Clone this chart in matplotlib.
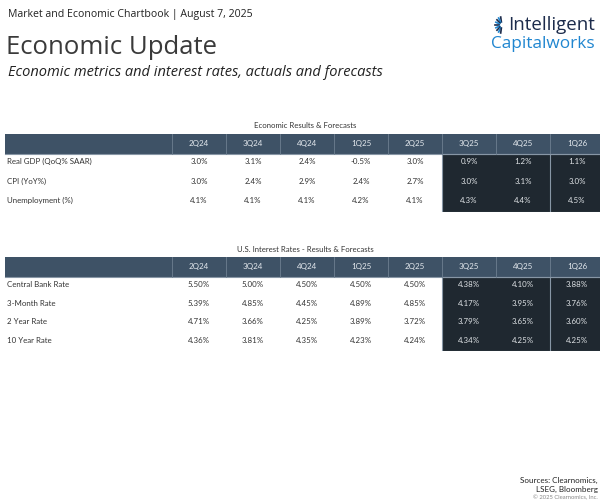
import math
import matplotlib
matplotlib.use("Agg")
import matplotlib.pyplot as plt
from matplotlib.patches import Rectangle

W, H = 600, 503

quarters = ["2Q24", "3Q24", "4Q24", "1Q25", "2Q25", "3Q25", "4Q25", "1Q26"]
n_actual = 5  # first 5 quarters are actuals, rest forecasts

econ_title = "Economic Results & Forecasts"
econ_rows = ["Real GDP (QoQ% SAAR)", "CPI (YoY%)", "Unemployment (%)"]
gdp = ["3.0%", "3.1%", "2.4%", "-0.5%", "3.0%", "0.9%", "1.2%", "1.1%"]
cpi = ["3.0%", "2.4%", "2.9%", "2.4%", "2.7%", "3.0%", "3.1%", "3.0%"]
unemp = ["4.1%", "4.1%", "4.1%", "4.2%", "4.1%", "4.3%", "4.4%", "4.5%"]
econ_values = [gdp, cpi, unemp]

rates_title = "U.S. Interest Rates - Results & Forecasts"
rates_rows = ["Central Bank Rate", "3-Month Rate", "2 Year Rate", "10 Year Rate"]
cb_rate = ["5.50%", "5.00%", "4.50%", "4.50%", "4.50%", "4.38%", "4.10%", "3.88%"]
m3_rate = ["5.39%", "4.85%", "4.45%", "4.89%", "4.85%", "4.17%", "3.95%", "3.76%"]
y2_rate = ["4.71%", "3.66%", "4.25%", "3.89%", "3.72%", "3.79%", "3.65%", "3.60%"]
y10_rate = ["4.36%", "3.81%", "4.35%", "4.23%", "4.24%", "4.34%", "4.25%", "4.25%"]
rates_values = [cb_rate, m3_rate, y2_rate, y10_rate]

HEADER = "#3e5266"
DARK = "#1f2830"
EDGE = "#8796a5"
TXT = "#333333"
FONT = ["Lato", "DejaVu Sans"]

fig = plt.figure(figsize=(W / 100, H / 100), dpi=100)
fig.patch.set_facecolor("white")

# Column geometry (pixels): label column starts at 5, data columns start at 172, width 54
X0, CW, LX = 172.0, 54.0, 5.0


def draw_table(top_px, hdr_h, row_h, title, rows, values):
    nrows = len(rows)
    total_h = hdr_h + row_h * nrows
    ax = fig.add_axes([0, 1 - (top_px + total_h) / H, 1, total_h / H])
    ax.set_xlim((0 - X0) / CW, (W - X0) / CW)
    ax.set_ylim(total_h, 0)
    ax.axis("off")
    lab_x = (LX - X0) / CW
    ncol = len(quarters)
    ax.add_patch(Rectangle((lab_x, 0), ncol - lab_x, hdr_h, facecolor=HEADER, edgecolor="none"))
    ax.plot([lab_x, ncol], [hdr_h, hdr_h], color=EDGE, lw=0.8)
    for j in range(0, ncol):
        ax.plot([j, j], [0, hdr_h], color="#6d7f90", lw=0.6)
    ax.add_patch(Rectangle((n_actual, hdr_h), ncol - n_actual, row_h * nrows,
                           facecolor=DARK, edgecolor=EDGE, lw=0.8))
    ax.plot([ncol - 1, ncol - 1], [hdr_h, total_h], color=EDGE, lw=0.8)
    for j, q in enumerate(quarters):
        ax.text(j + 0.5, hdr_h / 2, q, ha="center", va="center", color="#e4e9ee",
                fontsize=5.8, family=FONT)
    for i, (lab, vals) in enumerate(zip(rows, values)):
        yc = hdr_h + row_h * (i + 0.42)
        ax.text(lab_x + 0.03, yc, lab, ha="left", va="center", color=TXT, fontsize=5.7, family=FONT)
        for j, v in enumerate(vals):
            col = "#dfe3e6" if j >= n_actual else TXT
            ax.text(j + 0.5, yc, v, ha="center", va="center", color=col, fontsize=5.7, family=FONT)
    fig.text(305 / W, 1 - (top_px - 8) / H, title, ha="center", va="center", color=TXT,
             fontsize=5.6, family=FONT)


draw_table(134, 19.5, 19.5, econ_title, econ_rows, econ_values)
draw_table(257, 20, 18.5, rates_title, rates_rows, rates_values)

# Titles
fig.text(8 / W, 1 - 15 / H, "Market and Economic Chartbook | August 7, 2025", ha="left", va="center",
         fontsize=7.6, color="#222222", family=["Open Sans", "DejaVu Sans"])
fig.text(6 / W, 1 - 47 / H, "Economic Update", ha="left", va="center",
         fontsize=18.5, color="#3a3a3a", family=["Open Sans", "DejaVu Sans"])
fig.text(8 / W, 1 - 73 / H, "Economic metrics and interest rates, actuals and forecasts", ha="left",
         va="center", fontsize=10.5, style="italic", color="#222222", family=["Open Sans", "DejaVu Sans"])

# Logo
fig.text(595 / W, 1 - 25 / H, "Intelligent", ha="right", va="center", fontsize=13.5,
         color="#1c2b4b", family=["Open Sans", "DejaVu Sans"])
fig.text(595 / W, 1 - 44 / H, "Capitalworks", ha="right", va="center", fontsize=12.4,
         color="#2086d0", family=["Open Sans", "DejaVu Sans"])
logo = fig.add_axes([492 / W, 1 - 34 / H, 14 / W, 18 / H])
logo.set_xlim(-1, 1)
logo.set_ylim(-1, 1)
logo.axis("off")
for k in range(9):
    a = math.radians(100 + k * 20)
    c = "#2086d0" if k % 2 else "#1c2b4b"
    logo.plot([0.35 * math.cos(a) + 0.4, 0.9 * math.cos(a) + 0.4],
              [0.35 * math.sin(a), 0.9 * math.sin(a)], color=c, lw=1.2)

# Sources
fig.text(598 / W, 1 - 480 / H, "Sources: Clearnomics,", ha="right", va="center", fontsize=5.8,
         color="#222222", family=FONT)
fig.text(598 / W, 1 - 489 / H, "LSEG, Bloomberg", ha="right", va="center", fontsize=5.8,
         color="#222222", family=FONT)
fig.text(598 / W, 1 - 498 / H, "\u00a9 2025 Clearnomics, Inc.", ha="right", va="center", fontsize=4.2,
         color="#888888", family=FONT)

fig.savefig("out.png", dpi=100, facecolor="white")
